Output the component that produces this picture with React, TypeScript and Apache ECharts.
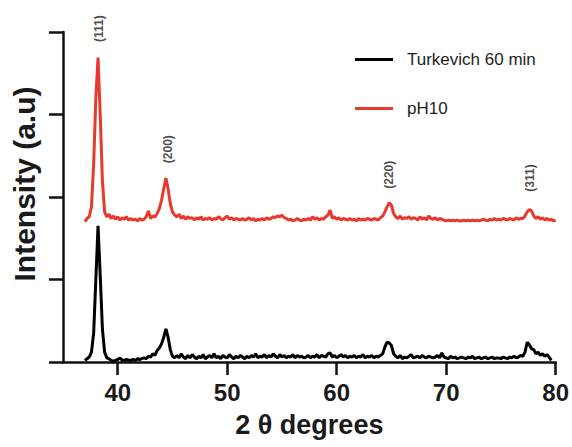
import React, { useEffect, useRef } from "react";
import * as echarts from "echarts";

// 2θ sampling positions (degrees)
const twoTheta: number[] = [
  37, 37.2, 37.4, 37.6, 37.8, 38, 38.2, 38.4, 38.6, 38.8,
  39, 39.2, 39.4, 39.6, 39.8, 40, 40.2, 40.4, 40.6, 40.8,
  41, 41.2, 41.4, 41.6, 41.8, 42, 42.2, 42.4, 42.6, 42.8,
  43, 43.2, 43.4, 43.6, 43.8, 44, 44.2, 44.4, 44.6, 44.8,
  45, 45.2, 45.4, 45.6, 45.8, 46, 46.2, 46.4, 46.6, 46.8,
  47, 47.2, 47.4, 47.6, 47.8, 48, 48.2, 48.4, 48.6, 48.8,
  49, 49.2, 49.4, 49.6, 49.8, 50, 50.2, 50.4, 50.6, 50.8,
  51, 51.2, 51.4, 51.6, 51.8, 52, 52.2, 52.4, 52.6, 52.8,
  53, 53.2, 53.4, 53.6, 53.8, 54, 54.2, 54.4, 54.6, 54.8,
  55, 55.2, 55.4, 55.6, 55.8, 56, 56.2, 56.4, 56.6, 56.8,
  57, 57.2, 57.4, 57.6, 57.8, 58, 58.2, 58.4, 58.6, 58.8,
  59, 59.2, 59.4, 59.6, 59.8, 60, 60.2, 60.4, 60.6, 60.8,
  61, 61.2, 61.4, 61.6, 61.8, 62, 62.2, 62.4, 62.6, 62.8,
  63, 63.2, 63.4, 63.6, 63.8, 64, 64.2, 64.4, 64.6, 64.8,
  65, 65.2, 65.4, 65.6, 65.8, 66, 66.2, 66.4, 66.6, 66.8,
  67, 67.2, 67.4, 67.6, 67.8, 68, 68.2, 68.4, 68.6, 68.8,
  69, 69.2, 69.4, 69.6, 69.8, 70, 70.2, 70.4, 70.6, 70.8,
  71, 71.2, 71.4, 71.6, 71.8, 72, 72.2, 72.4, 72.6, 72.8,
  73, 73.2, 73.4, 73.6, 73.8, 74, 74.2, 74.4, 74.6, 74.8,
  75, 75.2, 75.4, 75.6, 75.8, 76, 76.2, 76.4, 76.6, 76.8,
  77, 77.2, 77.4, 77.6, 77.8, 78, 78.2, 78.4, 78.6, 78.8,
  79, 79.2, 79.4, 79.6, 79.8, 80,
];

// Turkevich 60 min intensity (a.u., 1 = one y tick)
const turkevich: number[] = [
  0.02, 0.04, 0.06, 0.12, 0.35, 1.0, 1.65, 1.05, 0.4, 0.12,
  0.05, 0.04, 0.02, 0.01, 0.02, 0.03, 0.05, 0.02, 0.02, 0.03,
  0.02, 0.02, 0.03, 0.02, 0.04, 0.03, 0.04, 0.05, 0.04, 0.07,
  0.06, 0.1, 0.08, 0.14, 0.17, 0.22, 0.3, 0.4, 0.3, 0.15,
  0.07, 0.05,
  0.08, 0.05, 0.1, 0.06, 0.04, 0.08, 0.05, 0.09, 0.06, 0.04,
  0.07, 0.05, 0.09, 0.04, 0.06, 0.08, 0.05, 0.1, 0.05, 0.07,
  0.04, 0.08, 0.06, 0.05, 0.09, 0.06, 0.04, 0.07, 0.05, 0.08,
  0.06, 0.04, 0.07, 0.05, 0.08, 0.06, 0.1, 0.05, 0.07, 0.06,
  0.09, 0.05, 0.08, 0.06, 0.1, 0.07, 0.05, 0.09, 0.06, 0.08,
  0.05, 0.07, 0.06, 0.09, 0.05, 0.08, 0.06, 0.07, 0.05, 0.06,
  0.08, 0.05, 0.07, 0.06, 0.09, 0.05, 0.08, 0.07, 0.06, 0.1,
  0.11, 0.06, 0.08, 0.05, 0.07, 0.09, 0.06, 0.08, 0.05, 0.07,
  0.06, 0.08, 0.05, 0.07, 0.06, 0.09, 0.05, 0.07, 0.06, 0.08,
  0.05, 0.07, 0.06, 0.08,
  0.1, 0.18, 0.24, 0.23, 0.2, 0.1, 0.07,
  0.05, 0.08, 0.04, 0.06, 0.05, 0.07, 0.09, 0.05, 0.06, 0.07,
  0.05, 0.08, 0.06, 0.05, 0.07, 0.06, 0.05, 0.06, 0.08, 0.05,
  0.11, 0.06, 0.05, 0.04, 0.07, 0.05, 0.06, 0.04, 0.05, 0.06,
  0.05, 0.04, 0.06, 0.05, 0.07, 0.04, 0.05, 0.06, 0.04, 0.05,
  0.06, 0.04, 0.05, 0.06, 0.04, 0.05, 0.05, 0.04, 0.06, 0.05,
  0.04, 0.06, 0.05, 0.07, 0.05, 0.06, 0.08,
  0.07, 0.12, 0.24, 0.21, 0.16, 0.15, 0.1, 0.12, 0.08, 0.1,
  0.07, 0.09, 0.06, 0.02,
];

// pH10 intensity (a.u., offset trace)
const ph10: number[] = [
  1.7, 1.74, 1.76, 1.88, 2.4, 3.2, 3.69, 3.0, 2.2, 1.82,
  1.76, 1.79, 1.74, 1.77, 1.73, 1.76, 1.72, 1.75, 1.73, 1.76,
  1.72, 1.74, 1.72, 1.73, 1.71, 1.74, 1.72, 1.73, 1.76, 1.83,
  1.74, 1.77, 1.76, 1.8, 1.86, 1.96, 2.1, 2.23, 2.1, 1.92,
  1.82, 1.78,
  1.76, 1.79, 1.74, 1.77, 1.73, 1.76, 1.74, 1.75, 1.72, 1.75,
  1.73, 1.76, 1.72, 1.74, 1.73, 1.75, 1.72, 1.74, 1.73, 1.76,
  1.74, 1.72, 1.75, 1.77, 1.73, 1.75, 1.72, 1.74, 1.73, 1.72,
  1.74, 1.72, 1.73, 1.75, 1.72, 1.74, 1.71, 1.73, 1.72, 1.74,
  1.72, 1.75, 1.73, 1.74, 1.76, 1.75, 1.77, 1.76, 1.78, 1.75,
  1.74, 1.72, 1.73, 1.71, 1.72, 1.74, 1.72, 1.71, 1.73, 1.72,
  1.74, 1.72, 1.76, 1.73, 1.75, 1.72, 1.74, 1.73, 1.76, 1.78,
  1.84, 1.74, 1.76, 1.73, 1.75, 1.72, 1.74, 1.73, 1.72, 1.74,
  1.72, 1.73, 1.71, 1.74, 1.72, 1.73, 1.72, 1.74, 1.73, 1.72,
  1.74, 1.73, 1.72, 1.75,
  1.77, 1.82, 1.88, 1.93, 1.9, 1.8, 1.76,
  1.74, 1.77, 1.73, 1.75, 1.74, 1.76, 1.73, 1.75, 1.74, 1.72,
  1.76, 1.73, 1.75, 1.72, 1.77, 1.74, 1.73, 1.75, 1.72, 1.74,
  1.73, 1.72, 1.71, 1.72, 1.71, 1.72, 1.71, 1.72, 1.71, 1.71,
  1.72, 1.71, 1.72, 1.71, 1.72, 1.71, 1.72, 1.71, 1.72, 1.73,
  1.72, 1.71, 1.73, 1.72, 1.74, 1.72, 1.73, 1.72, 1.74, 1.73,
  1.72, 1.74, 1.73, 1.72, 1.75, 1.73, 1.74,
  1.74, 1.77, 1.82, 1.85, 1.83, 1.77, 1.74, 1.76, 1.73, 1.75,
  1.72, 1.74, 1.72, 1.73, 1.71, 1.72,
];

// Miller-index annotations: name, 2θ, label height (a.u.)
const peakNames = ["(111)", "(200)", "(220)", "(311)"];
const peakPos = [38.25, 44.55, 64.8, 77.7];
const peakLabelY = [4.04, 2.58, 2.27, 2.23];

const xTickValues = [40, 50, 60, 70, 80];

const FONT = "'Liberation Sans', Arial, Helvetica, sans-serif";

export default function App() {
  const ref = useRef<HTMLDivElement>(null);

  useEffect(() => {
    if (!ref.current) return;
    document.body.style.margin = "0";
    const chart = echarts.init(ref.current, undefined, { renderer: "svg" });

    const toPairs = (ys: number[]) => ys.map((y, i) => [twoTheta[i], y]);

    chart.setOption({
      animation: false,
      backgroundColor: "#ffffff",
      textStyle: { fontFamily: FONT },
      grid: { left: 63, right: 15, top: 32, bottom: 85, containLabel: false },
      legend: {
        data: ["Turkevich 60 min", "pH10"],
        orient: "vertical",
        left: 350,
        top: 46,
        itemWidth: 38,
        itemHeight: 3,
        itemGap: 32,
        icon: "rect",
        textStyle: { fontSize: 17, color: "#1e1e1e", fontFamily: FONT, padding: [0, 0, 0, 9] },
      },
      xAxis: {
        type: "value",
        min: 35,
        max: 80,
        name: "2 θ degrees",
        nameLocation: "middle",
        nameGap: 49,
        nameTextStyle: { fontSize: 27, fontWeight: "bold", color: "#1a1a1a", fontFamily: FONT },
        axisLine: { show: true, onZero: false, lineStyle: { color: "#111", width: 2.5 } },
        axisTick: { show: true, length: 13, customValues: xTickValues, lineStyle: { color: "#111", width: 2.5 } },
        axisLabel: {
          show: true,
          customValues: xTickValues,
          margin: 18,
          fontSize: 24,
          fontWeight: "bold",
          color: "#1a1a1a",
          fontFamily: FONT,
        },
        splitLine: { show: false },
      },
      yAxis: {
        type: "value",
        min: 0,
        max: 4,
        interval: 1,
        axisLine: { show: true, lineStyle: { color: "#111", width: 2.5 } },
        axisTick: { show: true, length: 14, lineStyle: { color: "#111", width: 2.5 } },
        axisLabel: { show: false },
        splitLine: { show: false },
      },
      graphic: [
        {
          type: "text",
          x: 24,
          y: 184,
          rotation: Math.PI / 2,
          style: {
            text: "Intensity (a.u)",
            fontSize: 30,
            fontWeight: "bold",
            fill: "#1a1a1a",
            fontFamily: FONT,
            align: "center",
            verticalAlign: "middle",
          },
        },
      ],
      series: [
        {
          name: "Turkevich 60 min",
          type: "line",
          data: toPairs(turkevich),
          symbol: "none",
          showSymbol: false,
          lineStyle: { color: "#000000", width: 3 },
          itemStyle: { color: "#000000" },
          z: 2,
        },
        {
          name: "pH10",
          type: "line",
          data: toPairs(ph10),
          symbol: "none",
          showSymbol: false,
          lineStyle: { color: "#E8392E", width: 3 },
          itemStyle: { color: "#E8392E" },
          z: 3,
        },
        {
          name: "peaks",
          type: "scatter",
          clip: false,
          symbolSize: 0,
          silent: true,
          data: peakNames.map((n, i) => ({ name: n, value: [peakPos[i], peakLabelY[i]] })),
          label: {
            show: true,
            position: "inside",
            rotate: 90,
            formatter: (p: any) => p.name,
            fontSize: 12,
            fontWeight: "bold",
            color: "#1a1a1a",
            fontFamily: FONT,
          },
          z: 4,
        },
      ],
    });

    return () => chart.dispose();
  }, []);

  return <div ref={ref} style={{ width: 572, height: 447 }} />;
}
